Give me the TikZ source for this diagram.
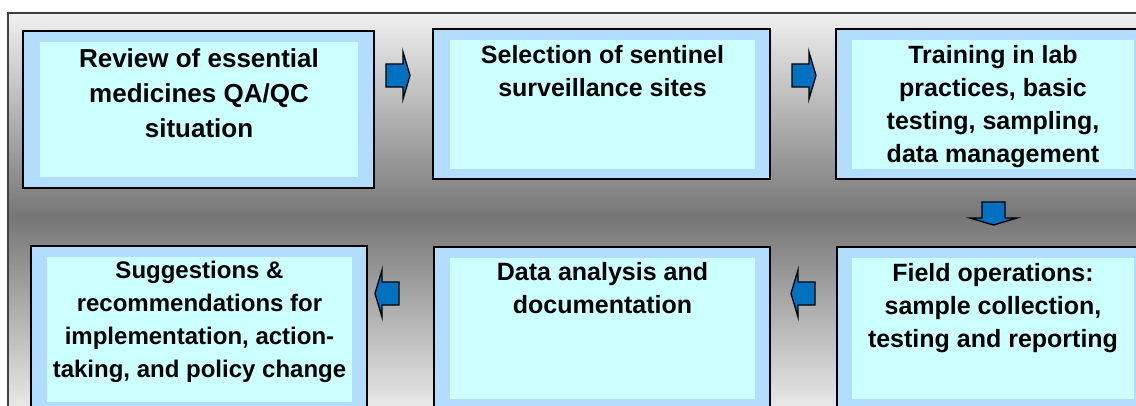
\documentclass[tikz,border=0pt]{standalone}
\usepackage{fontspec}
\setmainfont{Liberation Sans}
\usetikzlibrary{fit}
\definecolor{boxblue}{HTML}{B3DDFF}
\definecolor{boxcyan}{HTML}{CCFFFF}
\definecolor{arrblue}{HTML}{0070C0}
\definecolor{bglight}{HTML}{F0F0F0}
\definecolor{bgdark}{HTML}{767676}
\definecolor{framecol}{HTML}{404040}
\tikzset{
  obox/.style={rectangle, draw=black, line width=1.4pt, fill=boxblue, inner sep=0pt},
  ibox/.style={rectangle, fill=boxcyan, inner sep=0pt},
  txt/.style={align=center, inner sep=0pt, anchor=north, font=\bfseries\fontsize{18.75}{24.75}\selectfont},
  arrstyle/.style={draw=black, line width=1pt, fill=arrblue, line join=miter},
  rarr/.pic={\path[arrstyle] (0,-11.5)--(17,-11.5)--(17,-23.5)--(24,0)--(17,23.5)--(17,11.5)--(0,11.5)--cycle;},
  darr/.pic={\path[arrstyle] (-11.5,0)--(-11.5,16)--(-23.5,16)--(0,23)--(23.5,16)--(11.5,16)--(11.5,0)--cycle;}
}
\begin{document}
\begin{tikzpicture}[x=0.75pt,y=-0.75pt]
\useasboundingbox (0,0) rectangle (1136,406);
\clip (0,0) rectangle (1136,406);
\fill[white] (0,0) rectangle (1136,406);
\shade[top color=bglight, bottom color=bglight, middle color=bgdark] (8,13) rectangle (1160,420);
\draw[framecol, line width=1pt] (8,420)--(8,13)--(1160,13);
% top row
\node[obox, fit={(23,31)(374,188)}] (b1) {};
\node[ibox, fit={(40,42)(358,177)}] (i1) {};
\node[txt, font=\bfseries\fontsize{19.5}{26.25}\selectfont] (t1) at (199,48) {Review of essential\\medicines QA/QC\\situation};
\node[obox, fit={(433,29)(770,179)}] (b2) {};
\node[ibox, fit={(450,40)(755,169)}] (i2) {};
\node[txt] (t2) at (602.5,45) {Selection of sentinel\\surveillance sites};
\node[obox, fit={(836,29)(1150,179)}] (b3) {};
\node[ibox, fit={(852,40)(1134,169)}] (i3) {};
\node[txt] (t3) at (993,45) {Training in lab\\practices, basic\\testing, sampling,\\data management};
% bottom row
\node[obox, fit={(31,246)(367,420)}] (b4) {};
\node[ibox, fit={(47,257)(352,402)}] (i4) {};
\node[txt, font=\bfseries\fontsize{18}{24.75}\selectfont] (t4) at (199.5,261) {Suggestions \&\\recommendations for\\implementation, action-\\taking, and policy change};
\node[obox, fit={(434,247)(770,420)}] (b5) {};
\node[ibox, fit={(450,258)(755,399)}] (i5) {};
\node[txt] (t5) at (602.5,262) {Data analysis and\\documentation};
\node[obox, fit={(837,247)(1150,420)}] (b6) {};
\node[ibox, fit={(852,258)(1134,399)}] (i6) {};
\node[txt] (t6) at (993,263) {Field operations:\\sample collection,\\testing and reporting};
% block arrows
\pic (a12) at (386,75.5) {rarr};
\pic (a23) at (792,75.5) {rarr};
\pic (a36) at (993.5,202) {darr};
\pic[xscale=-1] (a65) at (815,293.5) {rarr};
\pic[xscale=-1] (a54) at (399,293.5) {rarr};
\end{tikzpicture}
\end{document}
